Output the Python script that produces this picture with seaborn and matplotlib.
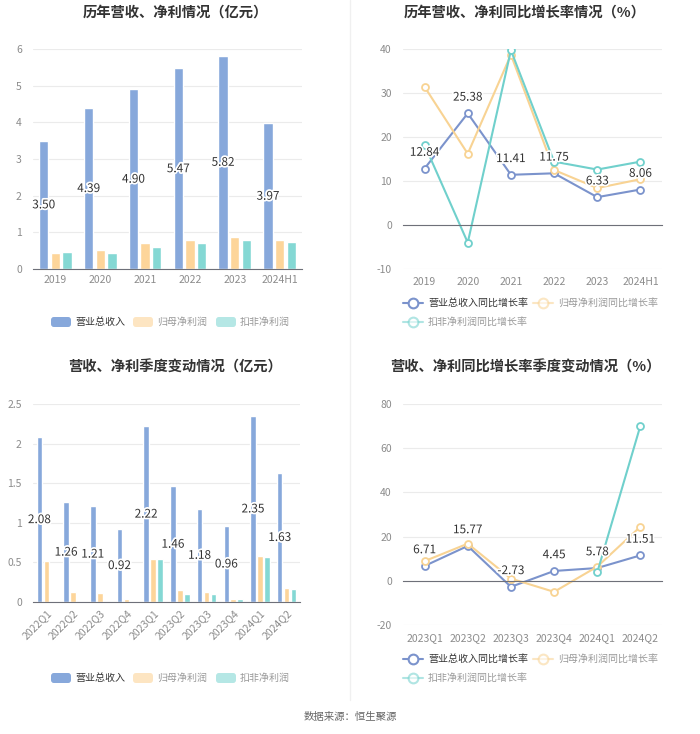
import matplotlib
matplotlib.use("Agg")
import matplotlib.pyplot as plt
import matplotlib.patheffects as pe
from matplotlib.lines import Line2D
from matplotlib.patches import FancyBboxPatch
import seaborn as sns
import pandas as pd
import numpy as np

# ---- data ----
years = ['2019', '2020', '2021', '2022', '2023', '2024H1']
rev_year = [3.50, 4.39, 4.90, 5.47, 5.82, 3.97]
np_year = [0.44, 0.51, 0.70, 0.80, 0.87, 0.78]
kf_year = [0.46, 0.44, 0.61, 0.70, 0.80, 0.75]

rev_year_g = [12.84, 25.38, 11.41, 11.75, 6.33, 8.06]
np_year_g = [31.4, 16.2, 38.7, 12.5, 8.4, 10.4]
kf_year_g = [18.2, -4.0, 39.7, 14.4, 12.6, 14.4]

quarters = ['2022Q1', '2022Q2', '2022Q3', '2022Q4', '2023Q1', '2023Q2',
            '2023Q3', '2023Q4', '2024Q1', '2024Q2']
rev_q = [2.08, 1.26, 1.21, 0.92, 2.22, 1.46, 1.18, 0.96, 2.35, 1.63]
np_q = [0.515, 0.127, 0.11, 0.04, 0.545, 0.15, 0.12, 0.04, 0.587, 0.18]
kf_q = [np.nan, np.nan, np.nan, np.nan, 0.545, 0.10, 0.10, 0.04, 0.57, 0.17]

quarters_g = ['2023Q1', '2023Q2', '2023Q3', '2023Q4', '2024Q1', '2024Q2']
rev_q_g = [6.71, 15.77, -2.73, 4.45, 5.78, 11.51]
np_q_g = [8.9, 16.8, 1.0, -5.0, 6.4, 24.5]
kf_q_g = [np.nan, np.nan, np.nan, np.nan, 3.8, 70.2]

bar_names = ['营业总收入', '归母净利润', '扣非净利润']
line_names = ['营业总收入同比增长率', '归母净利润同比增长率', '扣非净利润同比增长率']
bar_colors = ['#87a8db', '#fdd59a', '#84d8d4']
line_colors = ['#7b93cc', '#f8d393', '#70d0cc']

sns.set_style('white')
plt.rcParams['font.family'] = ['Noto Sans CJK SC', 'DejaVu Sans']
plt.rcParams['axes.unicode_minus'] = False

fig = plt.figure(figsize=(7.0, 7.34), dpi=100)
W, H = 700, 734
TICK_FS = 7.5
LEG_FS = 7.2


def add_ax(x0, y0, x1, y1):
    return fig.add_axes([x0 / W, 1 - y1 / H, (x1 - x0) / W, (y1 - y0) / H])


def style_axis(ax, ylim, yticks, ylabels):
    ax.set_ylim(*ylim)
    ax.set_yticks(yticks)
    ax.set_yticklabels(ylabels)
    ax.grid(axis='y', color='#ebebeb', linewidth=0.8)
    ax.set_axisbelow(True)
    for s in ['left', 'right', 'top']:
        ax.spines[s].set_visible(False)
    ax.tick_params(axis='y', length=0, labelsize=TICK_FS, labelcolor='#8c8c8c', pad=8)
    ax.set_xlabel('')
    ax.set_ylabel('')


def bar_panel(ax, cats, series, ylim, yticks, ylabels, rotate=False):
    df = pd.DataFrame({'cat': cats * 3,
                       'name': np.repeat(bar_names, len(cats)),
                       'val': np.concatenate(series)})
    sns.barplot(data=df, x='cat', y='val', hue='name', order=cats, hue_order=bar_names,
                palette=bar_colors, width=0.78, gap=0.2, legend=False, ax=ax,
                saturation=1, errorbar=None)
    style_axis(ax, ylim, yticks, ylabels)
    ax.set_xlim(-0.5, len(cats) - 0.5)
    ax.spines['bottom'].set_color('#6e7079')
    ax.tick_params(axis='x', length=0, labelsize=TICK_FS, labelcolor='#8c8c8c', pad=4)
    if rotate:
        for t in ax.get_xticklabels():
            t.set_rotation(45)
            t.set_ha('right')
            t.set_rotation_mode('anchor')
    labels = ax.bar_label(ax.containers[0], fmt='%.2f', label_type='center',
                          fontsize=8.5, color='#333333')
    for t in labels:
        t.set_path_effects([pe.withStroke(linewidth=2.5, foreground='white')])


def line_panel(ax, cats, series, ylim, yticks, ylabels):
    for vals, name, col in zip(series, line_names, line_colors):
        sns.lineplot(x=cats, y=vals, ax=ax, color=col, linewidth=1.5, marker='o',
                     markersize=5, markerfacecolor='white', markeredgecolor=col,
                     markeredgewidth=1.3, sort=False, label=name, legend=False)
    style_axis(ax, ylim, yticks, ylabels)
    ax.set_xlim(-0.5, len(cats) - 0.5)
    ax.spines['bottom'].set_position(('data', 0))
    ax.spines['bottom'].set_color('#6e7079')
    ax.tick_params(axis='x', length=5, color='#6e7079', labelbottom=False, direction='out')
    sec = ax.secondary_xaxis('bottom')
    sec.set_xticks(range(len(cats)))
    sec.set_xticklabels(cats)
    sec.tick_params(length=0, labelsize=TICK_FS, labelcolor='#8c8c8c', pad=6)
    sec.spines['bottom'].set_visible(False)
    for i, v in enumerate(series[0]):
        t = ax.annotate(f'{v:.2f}', (i, v), xytext=(0, 7), textcoords='offset points',
                        ha='center', va='bottom', fontsize=8.5, color='#333333')
        t.set_path_effects([pe.withStroke(linewidth=2.5, foreground='white')])


def bar_legend(ycen):
    items_x = [51, 133, 216]
    for i, (name, col) in enumerate(zip(bar_names, bar_colors)):
        x = items_x[i]
        alpha = 1.0 if i == 0 else 0.6
        p = FancyBboxPatch((x / W, 1 - (ycen + 5) / H), 20 / W, 10 / H,
                           boxstyle='round,pad=0,rounding_size=0.004',
                           transform=fig.transFigure, facecolor=col, edgecolor='none',
                           alpha=alpha)
        fig.add_artist(p)
        fig.text((x + 24) / W, 1 - ycen / H, name, fontsize=LEG_FS,
                 color='#333333' if i == 0 else '#999999', va='center', ha='left')


def line_legend(ycen1, ycen2):
    pos = [(403, ycen1), (533, ycen1), (403, ycen2)]
    for i, ((x, y), name, col) in enumerate(zip(pos, line_names, line_colors)):
        alpha = 1.0 if i == 0 else 0.55
        yy = 1 - y / H
        fig.add_artist(Line2D([x / W, (x + 20) / W], [yy, yy], transform=fig.transFigure,
                              color=col, linewidth=1.5, alpha=alpha))
        fig.add_artist(Line2D([(x + 10) / W], [yy], transform=fig.transFigure,
                              marker='o', markersize=7, markerfacecolor='white',
                              markeredgecolor=col, markeredgewidth=1.5, alpha=alpha))
        fig.text((x + 25) / W, yy, name, fontsize=LEG_FS,
                 color='#333333' if i == 0 else '#999999', va='center', ha='left')


# top-left
ax1 = add_ax(33, 49, 302, 269)
bar_panel(ax1, years, [rev_year, np_year, kf_year], (0, 6), range(0, 7),
          [str(v) for v in range(0, 7)])
bar_legend(322)

# top-right
ax2 = add_ax(403, 49, 662, 269)
line_panel(ax2, years, [rev_year_g, np_year_g, kf_year_g], (-10, 40),
           range(-10, 41, 10), [str(v) for v in range(-10, 41, 10)])
line_legend(303, 322)

# bottom-left
ax3 = add_ax(33, 404, 300, 602)
bar_panel(ax3, quarters, [rev_q, np_q, kf_q], (0, 2.5), [0, 0.5, 1, 1.5, 2, 2.5],
          ['0', '0.5', '1', '1.5', '2', '2.5'], rotate=True)
bar_legend(678)

# bottom-right
ax4 = add_ax(403, 404, 662, 625)
line_panel(ax4, quarters_g, [rev_q_g, np_q_g, kf_q_g], (-20, 80),
           range(-20, 81, 20), [str(v) for v in range(-20, 81, 20)])
line_legend(659, 678)

# titles
title_kw = dict(fontsize=10.3, fontweight='bold', color='#333333', ha='center', va='center')
fig.text(175 / W, 1 - 13 / H, '历年营收、净利情况（亿元）', **title_kw)
fig.text(525 / W, 1 - 13 / H, '历年营收、净利同比增长率情况（%）', **title_kw)
fig.text(175 / W, 1 - 367 / H, '营收、净利季度变动情况（亿元）', **title_kw)
fig.text(525 / W, 1 - 367 / H, '营收、净利同比增长率季度变动情况（%）', **title_kw)

# separator and source
fig.add_artist(Line2D([0.5, 0.5], [1 - 700 / H, 1.0], transform=fig.transFigure,
                      color='#f0f0f0', linewidth=1))
fig.text(0.5, 1 - 717 / H, '数据来源：恒生聚源', fontsize=7.5, color='#666666',
         ha='center', va='center')

fig.savefig('out.png', dpi=100, facecolor='white')
